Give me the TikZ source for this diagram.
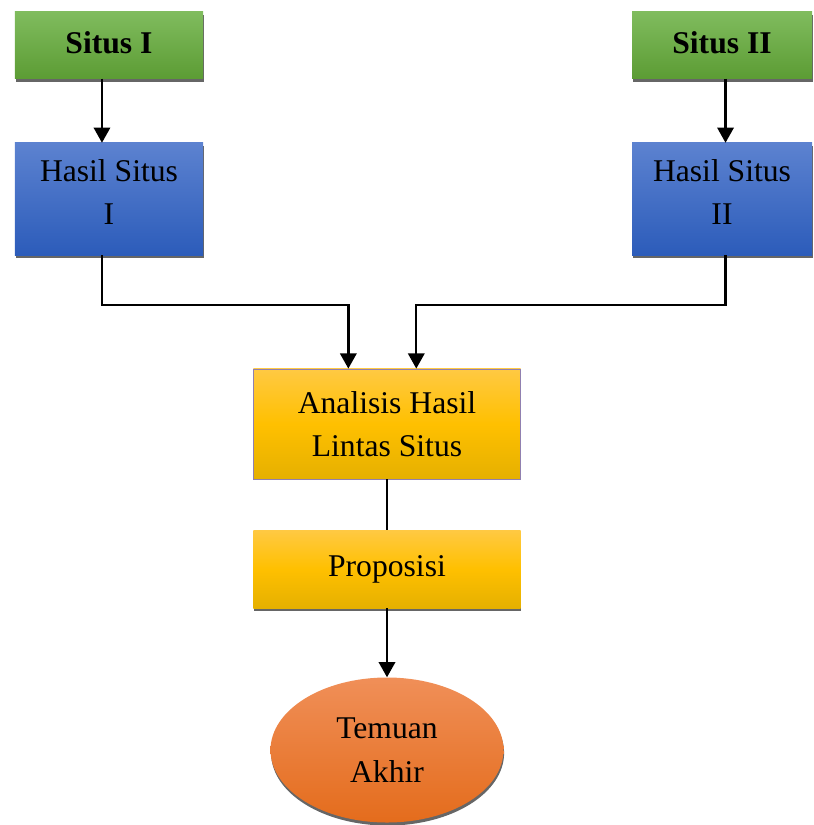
\documentclass[tikz,border=0pt]{standalone}
\usepackage{fontspec}
\setmainfont{Liberation Serif}
\usetikzlibrary{shapes.geometric,shadows,arrows.meta}

\definecolor{greentop}{HTML}{80BC5E}
\definecolor{greenbot}{HTML}{5C9C34}
\definecolor{bluetop}{HTML}{5C82D0}
\definecolor{bluebot}{HTML}{2C5CBA}
\definecolor{goldtop}{HTML}{FFC943}
\definecolor{goldmid}{HTML}{FFC000}
\definecolor{goldbot}{HTML}{E5B000}
\definecolor{orangetop}{HTML}{F08F58}
\definecolor{orangebot}{HTML}{E46C1C}
\definecolor{lilac}{HTML}{9080B0}

\begin{document}
\begin{tikzpicture}[x=0.03cm,y=-0.03cm,
  every node/.style={font=\fontsize{27}{37}\selectfont, align=center, inner sep=0pt},
  boxshadow/.style={drop shadow={shadow xshift=0.5pt,shadow yshift=-2.6pt,fill=black!80,opacity=0.75}},
  situsbox/.style={boxshadow, top color=greentop, bottom color=greenbot, minimum height=2.01cm},
  hasilbox/.style={boxshadow, top color=bluetop, bottom color=bluebot, minimum height=3.36cm},
  goldbox/.style={top color=goldtop, bottom color=goldbot, middle color=goldmid, minimum width=8.01cm},
  arr/.style={-{Triangle[width=14pt,length=13pt]}, line width=2pt},
  link/.style={line width=2pt}]

\useasboundingbox (0,0) rectangle (813,825);

% sumber
\node[situsbox, minimum width=5.64cm] (s1) at (109,45) {\bfseries Situs I\strut};
\node[situsbox, minimum width=5.4cm] (s2) at (722,45) {\bfseries Situs II\strut};

\node[hasilbox, minimum width=5.64cm] (h1) at (109,199) {Hasil Situs\\I\\[-25pt]};
\node[hasilbox, minimum width=5.4cm] (h2) at (722,199) {Hasil Situs\\II\\[-25pt]};

% analisis
\node[goldbox, draw=lilac, line width=0.7pt, minimum height=3.3cm] (an) at (387,424) {Analisis Hasil\\Lintas Situs};
\node[goldbox, boxshadow, minimum height=2.34cm] (pr) at (387,569) {Proposisi};

\node[ellipse, boxshadow, top color=orangetop, bottom color=orangebot, minimum width=6.99cm, minimum height=4.35cm] (tm) at (387,750) {Temuan\\Akhir};

% penghubung
\draw[arr] ([xshift=-6pt]s1.south) -- ([xshift=-6pt]h1.north);
\draw[arr] ([xshift=3pt]s2.south) -- ([xshift=3pt]h2.north);
\draw[arr] ([xshift=-6pt]h1.south) -- ++(0,50) -| ([xshift=-33pt]an.north);
\draw[arr] ([xshift=3pt]h2.south) -- ++(0,50) -| ([xshift=25pt]an.north);
\draw[link] (an) -- (pr);
\draw[arr] (pr) -- (tm);
\end{tikzpicture}
\end{document}
